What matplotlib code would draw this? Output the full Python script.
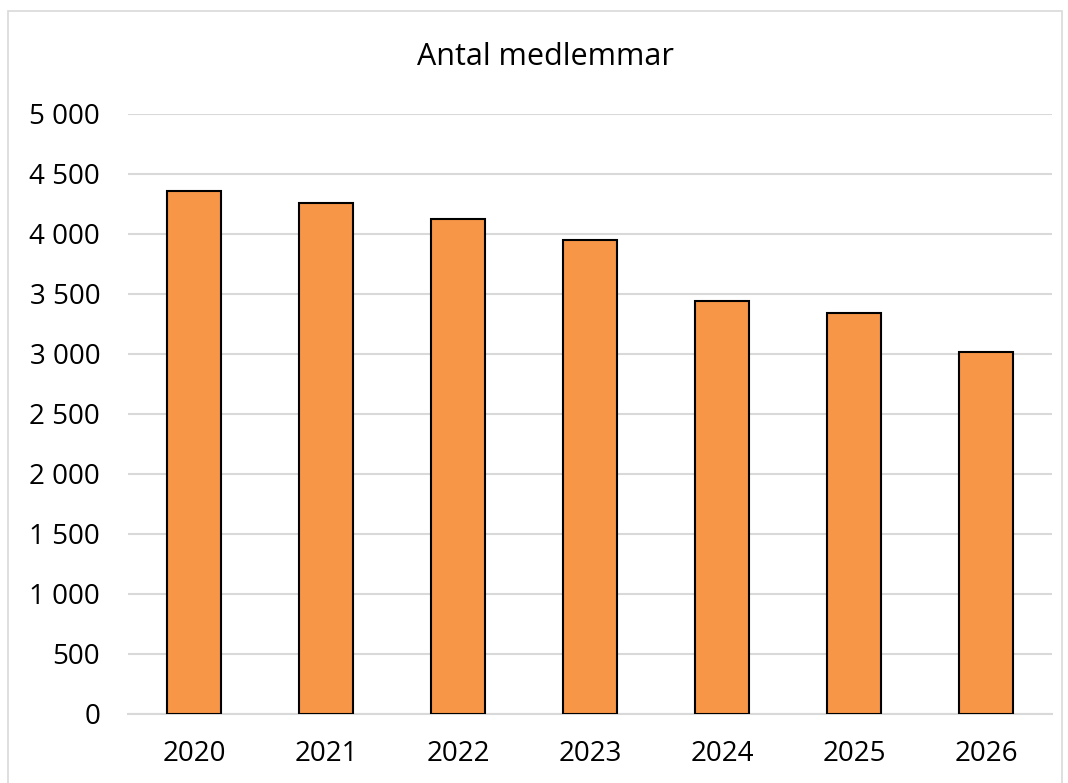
import matplotlib
matplotlib.use("Agg")
import matplotlib.pyplot as plt
from matplotlib.patches import Rectangle
from matplotlib.ticker import FuncFormatter, MultipleLocator

years = ["2020", "2021", "2022", "2023", "2024", "2025", "2026"]
members = [4360, 4260, 4125, 3950, 3445, 3345, 3020]
title = "Antal medlemmar"

plt.rcParams['font.family'] = ['Open Sans', 'DejaVu Sans']

W, H = 1068, 783
fig = plt.figure(figsize=(W / 100, H / 100), dpi=100)
ax = fig.add_axes([128 / W, 1 - 714 / H, (1052 - 128) / W, (714 - 114) / H])

x = range(len(years))
ax.bar(x, members, width=0.41, color="#F79646", edgecolor="black", linewidth=1.5, zorder=3)
ax.set_xlim(-0.5, len(years) - 0.5)
ax.set_ylim(0, 5000)
ax.yaxis.set_major_locator(MultipleLocator(500))
ax.yaxis.set_major_formatter(FuncFormatter(lambda v, p: f"{int(v):,}".replace(",", " ")))
ax.set_xticks(list(x))
ax.set_xticklabels(years)
ax.grid(axis="y", color="#D9D9D9", linewidth=1.5, zorder=0)
for s in ["top", "right", "left"]:
    ax.spines[s].set_visible(False)
ax.spines["bottom"].set_color("#D9D9D9")
ax.spines["bottom"].set_linewidth(1.5)
ax.tick_params(axis="both", length=0, labelsize=20, colors="black")
ax.tick_params(axis="y", pad=20)
ax.tick_params(axis="x", pad=19)

fig.text(545 / W, 1 - 57 / H, title, ha="center", va="center", fontsize=22)
fig.patches.append(Rectangle((8 / W, -0.01), (1062 - 8) / W, 1 - 11 / H + 0.01,
                             transform=fig.transFigure, fill=False,
                             edgecolor="#D9D9D9", linewidth=1.2))

fig.savefig("out.png", dpi=100)
